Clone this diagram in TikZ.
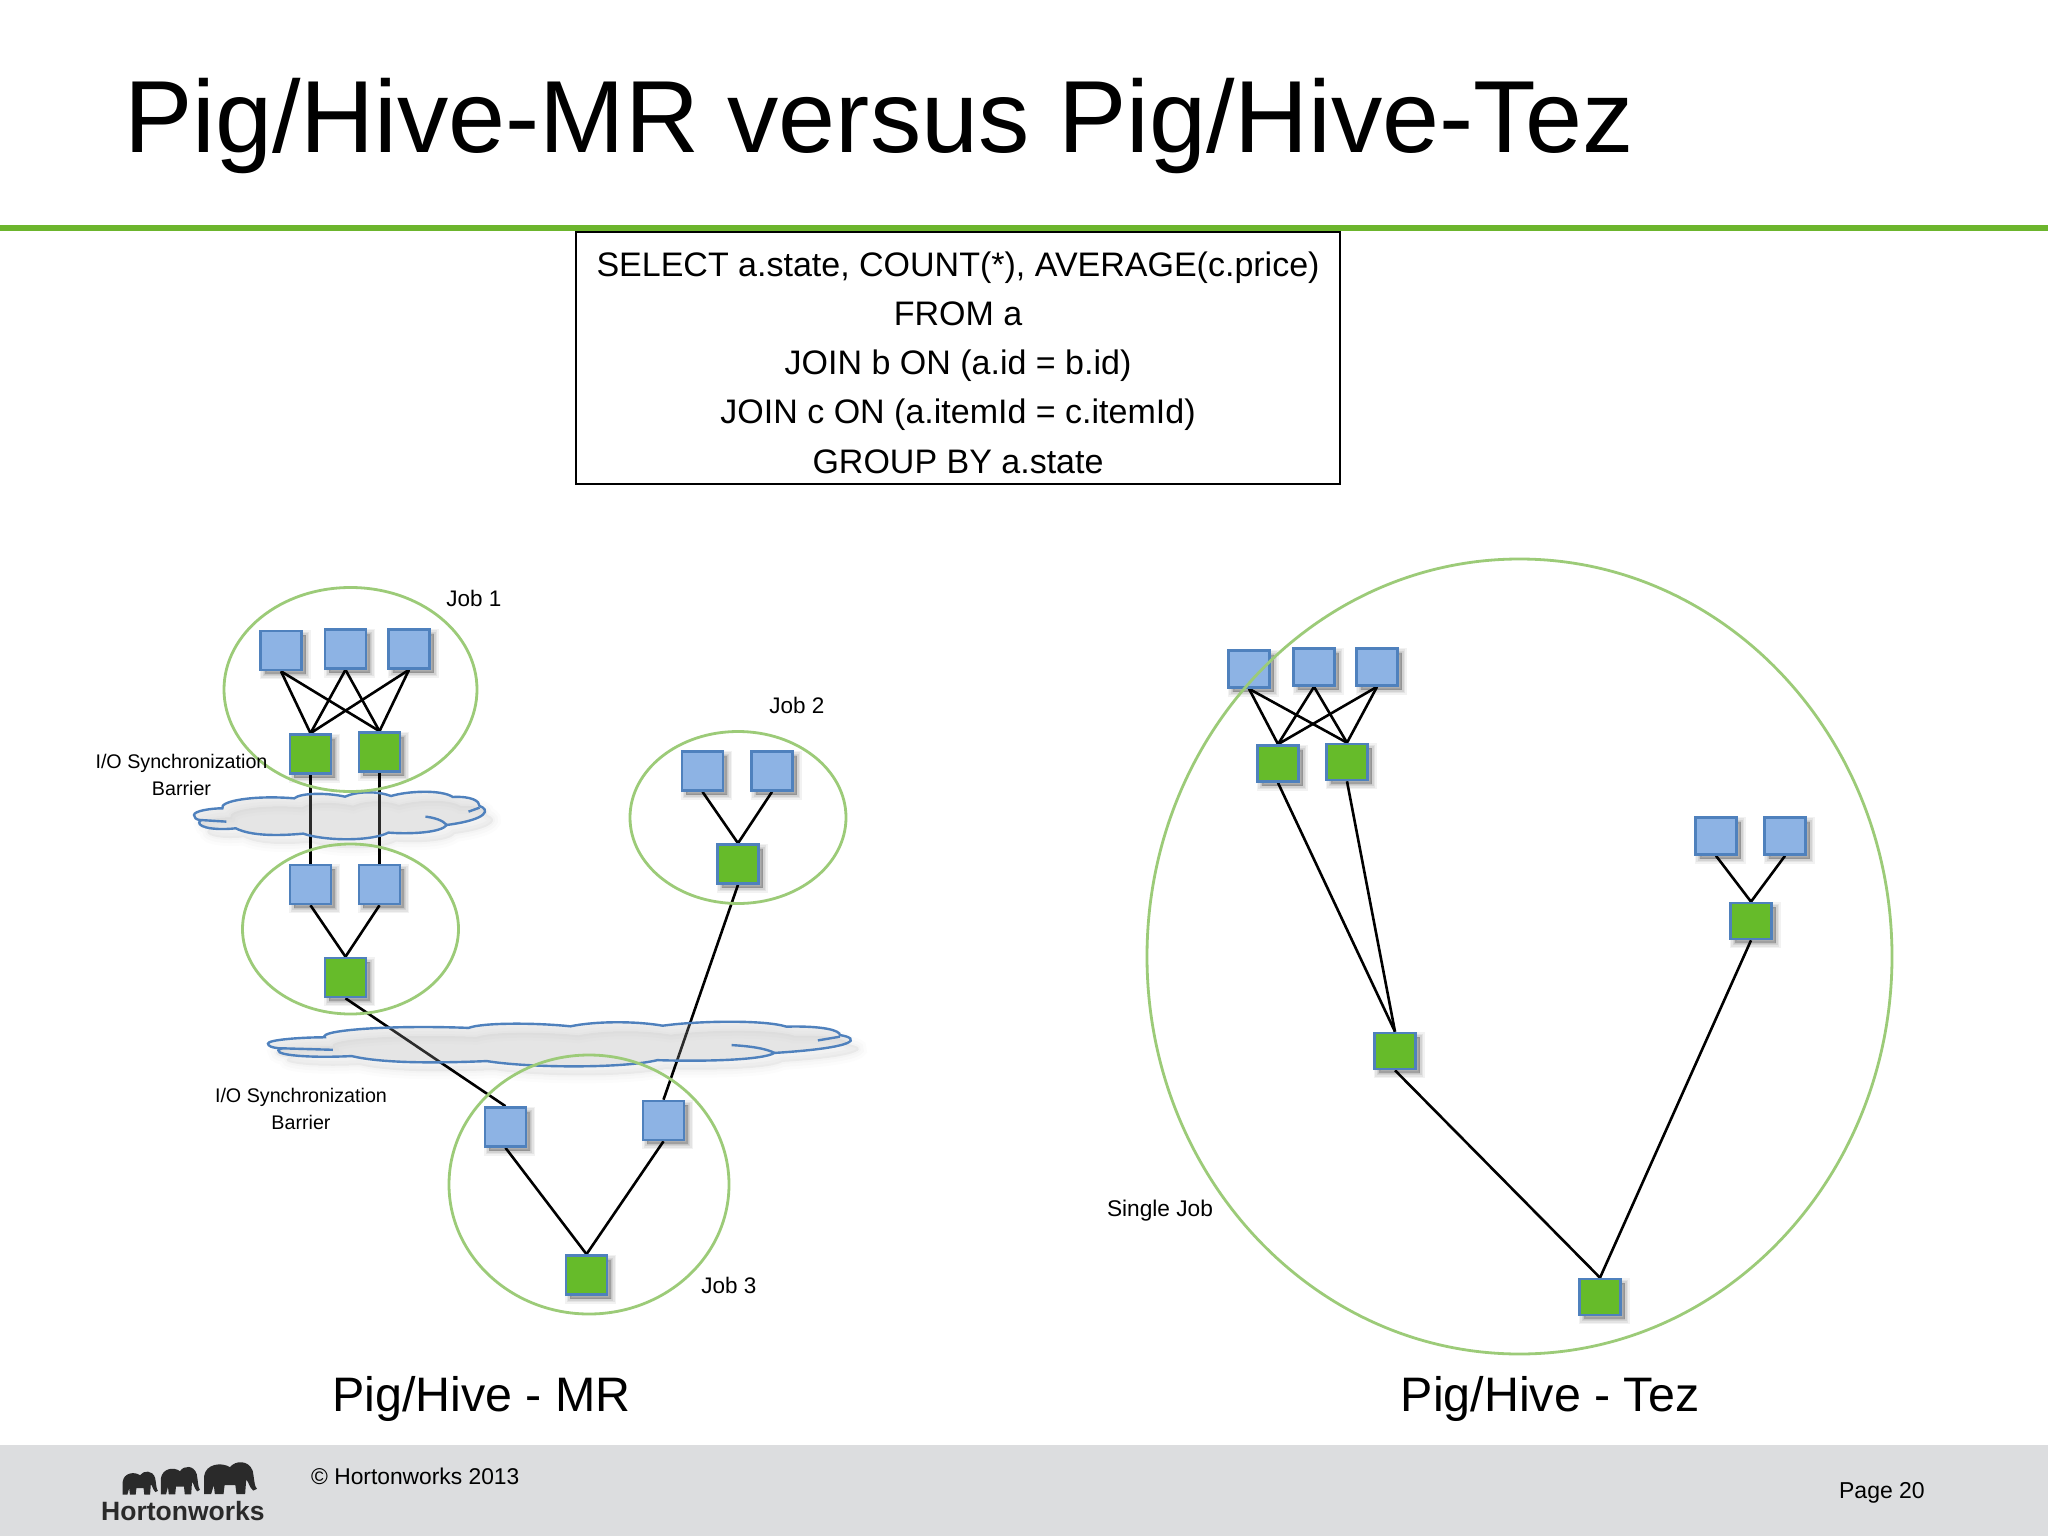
\documentclass[tikz,border=0pt]{standalone}
\usepackage{fontspec}
\setmainfont{Liberation Sans}
\usetikzlibrary{shapes.geometric}
\pgfdeclarelayer{pagelayer}
\pgfdeclarelayer{linelayer}
\pgfdeclarelayer{cloudlayer}
\pgfsetlayers{pagelayer,linelayer,cloudlayer,main}
\definecolor{sqblue}{HTML}{8DB3E4}
\definecolor{sqedge}{HTML}{4F81BD}
\definecolor{sqgreen}{HTML}{66BB2A}
\definecolor{ringgreen}{HTML}{9CCB78}
\definecolor{rulegreen}{HTML}{6CB52D}
\definecolor{footgrey}{HTML}{DCDDDF}
\definecolor{cloudfill}{HTML}{B8B8B8}
\definecolor{logoink}{HTML}{2A2A2A}
\newcommand{\fs}[1]{\fontsize{#1}{#1}\selectfont}
\tikzset{
  softlayer/.style n args={3}{preaction={draw=black,fill=black,opacity=#1,line width=#2,
     transform canvas={shift={(#3)}}}},
  sqshadow/.style={softlayer={.05}{10pt}{4pt,-4pt},softlayer={.06}{7pt}{4pt,-4pt},
     softlayer={.07}{4pt}{4pt,-4pt},softlayer={.07}{1pt}{4pt,-4pt}},
  cloudshadow/.style={softlayer={.012}{16pt}{8pt,-9pt},softlayer={.015}{10pt}{8pt,-9pt},
     softlayer={.015}{4pt}{8pt,-9pt}},
  sq/.style={rectangle,draw=sqedge,line width=2.6pt,minimum width=41pt,minimum height=39pt,inner sep=0pt,sqshadow},
  bluesq/.style={sq,fill=sqblue},
  greensq/.style={sq,fill=sqgreen},
  smallbluesq/.style={bluesq,minimum height=37pt},
  smallgreensq/.style={greensq,minimum height=36pt},
  ring/.style={ellipse,draw=ringgreen,line width=2.8pt,inner sep=0pt},
  link/.style={draw=black,line width=2.6pt},
  lab/.style={inner sep=0pt,align=center,text=black},
  sqlline/.style={lab,anchor=base},
  barrierlabel/.style={lab,font=\fontsize{19.7}{26.5}\selectfont},
}
\newcommand{\cloudshape}[4]{%
  \begin{scope}[shift={(#1,#2)},x=#3pt,y=-#4pt]
    \path[cloudshadow,draw=sqedge,line width=2.4pt,fill=cloudfill,fill opacity=.24]
      (0,72) .. controls (0,60) and (50,52) .. (85,52)
      .. controls (75,30) and (180,12) .. (300,22)
      .. controls (320,5) and (400,5) .. (452,17)
      .. controls (490,0) and (550,0) .. (590,15)
      .. controls (640,0) and (740,-5) .. (775,18)
      .. controls (830,15) and (855,30) .. (855,45)
      .. controls (885,55) and (885,85) .. (757,102)
      .. controls (740,125) and (650,130) .. (582,125)
      .. controls (530,152) and (390,150) .. (327,128)
      .. controls (250,135) and (170,135) .. (125,112)
      .. controls (50,120) and (0,105) .. (20,88)
      .. controls (5,85) and (0,80) .. (0,72) -- cycle;
    \draw[sqedge,line width=2.4pt] (17,87) -- (97,92);
    \draw[sqedge,line width=2.4pt] (822,62) -- (855,50);
    \draw[sqedge,line width=2.4pt] (693,77) .. controls (720,80) and (745,88) .. (757,102);
  \end{scope}}
\newcommand{\hwele}[4]{%
  \begin{scope}[shift={(#1,#2)},x=#3pt,y=-#4pt]
    \fill[logoink] (0.02,.95) -- (.02,.45) .. controls (.05,.1) and (.35,.05) .. (.5,.2)
      .. controls (.6,0) and (.85,0) .. (.92,.3) .. controls (.95,.5) and (.95,.75) .. (1,.8)
      -- (.93,.85) .. controls (.85,.75) and (.85,.6) .. (.8,.55) -- (.78,.95) -- (.62,.95)
      -- (.6,.7) -- (.4,.7) -- (.38,.95) -- (.22,.95) -- (.2,.7) -- (.15,.95) -- cycle;
  \end{scope}}
\begin{document}
\begin{tikzpicture}[x=1pt,y=-1pt]
\useasboundingbox (0,0) rectangle (2048,1536);
\begin{pgfonlayer}{pagelayer}
\fill[white] (0,0) rectangle (2048,1536);
\fill[footgrey] (0,1445) rectangle (2048,1536);
\fill[rulegreen] (0,224.5) rectangle (2048,230.5);
\end{pgfonlayer}

\node[lab,anchor=base west] (title) at (124,153) {\fs{102.5}Pig/Hive-MR versus Pig/Hive-Tez};
\node[draw=black,line width=2.4pt,minimum width=764pt,minimum height=252pt,inner sep=0pt] (sqlbox) at (958,358) {};
\node[sqlline] (s1) at (958,276) {\fs{34}SELECT a.state, COUNT(*), AVERAGE(c.price)};
\node[sqlline] (s2) at (958,325.3) {\fs{34}FROM a};
\node[sqlline] (s3) at (958,374.6) {\fs{34}JOIN b ON (a.id = b.id)};
\node[sqlline] (s4) at (958,423.9) {\fs{34}JOIN c ON (a.itemId = c.itemId)};
\node[sqlline] (s5) at (958,473.2) {\fs{34}GROUP BY a.state};

% MR squares
\node[bluesq] (a1) at (281,650.5) {};
\node[bluesq] (a2) at (345.5,649) {};
\node[bluesq] (a3) at (409,649) {};
\node[greensq] (g1) at (310.5,754) {};
\node[greensq] (g2) at (379.5,752) {};
\node[bluesq] (b1) at (310.5,884.5) {};
\node[bluesq] (b2) at (379.5,884.5) {};
\node[greensq] (g3) at (345.5,977.5) {};
\node[bluesq] (c1) at (702.5,771) {};
\node[bluesq] (c2) at (772,771) {};
\node[greensq] (g4) at (738,864) {};
\node[bluesq] (d1) at (505.5,1127) {};
\node[bluesq] (d2) at (663.5,1120.5) {};
\node[greensq] (g5) at (586.5,1275) {};
% Tez squares
\node[smallbluesq] (t1) at (1249,669) {};
\node[smallbluesq] (t2) at (1314,667) {};
\node[smallbluesq] (t3) at (1377,667) {};
\node[smallgreensq] (u1) at (1278,763.5) {};
\node[smallgreensq] (u2) at (1347,762) {};
\node[smallbluesq] (t4) at (1716,836) {};
\node[smallbluesq] (t5) at (1785,836) {};
\node[smallgreensq] (u3) at (1751,921) {};
\node[smallgreensq] (u4) at (1395,1051) {};
\node[smallgreensq] (u5) at (1600,1297) {};

% rings
\node[ring,minimum width=253pt,minimum height=204pt] (job1) at (350.5,689.5) {};
\node[ring,minimum width=216pt,minimum height=170pt] (jobm) at (350.5,929) {};
\node[ring,minimum width=216pt,minimum height=172pt] (job2) at (738,817.5) {};
\node[ring,minimum width=280pt,minimum height=259pt] (job3) at (589,1184.5) {};
\node[ring,minimum width=745pt,minimum height=795pt] (single) at (1519.5,956.5) {};

\begin{pgfonlayer}{linelayer}
\foreach \p/\q in {a1/g1,a1/g2,a2/g1,a2/g2,a3/g1,a3/g2,g1/b1,g2/b2,b1/g3,b2/g3,c1/g4,c2/g4,g3/d1,g4/d2,d1/g5,d2/g5,
  t1/u1,t1/u2,t2/u1,t2/u2,t3/u1,t3/u2,u1/u4,u2/u4,t4/u3,t5/u3,u3/u5,u4/u5}
  \draw[link] (\p.south) -- (\q.north);
\end{pgfonlayer}
\begin{pgfonlayer}{cloudlayer}
\cloudshape{194}{791}{.334}{.333}
\cloudshape{268}{1021}{.669}{.313}
\end{pgfonlayer}

\node[lab] (l1) at (474,598) {\fs{22.5}Job 1};
\node[lab] (l2) at (797,705) {\fs{22.5}Job 2};
\node[lab] (l3) at (729,1285) {\fs{22.5}Job 3};
\node[barrierlabel] (l4) at (181.5,775) {I/O Synchronization\\Barrier};
\node[barrierlabel] (l5) at (301,1109) {I/O Synchronization\\Barrier};
\node[lab] (l6) at (1160,1211) {\fs{22.7}Single Job};
\node[lab] (c3) at (481.5,1399) {\fs{48.4}Pig/Hive - MR};
\node[lab] (c4) at (1550,1399) {\fs{48.4}Pig/Hive - Tez};
\node[lab,anchor=west] (copy) at (311,1476) {\fs{22.8}© Hortonworks 2013};
\node[lab,anchor=east] (page) at (1925,1493) {\fs{23}Page 20};

% logo
\hwele{122}{1470}{36}{26}
\hwele{160}{1465}{40}{31}
\hwele{203}{1460}{54}{36}
\node[lab,anchor=base west,text=logoink] (logo) at (101,1520) {\fs{26.5}\bfseries Hortonworks};
\end{tikzpicture}
\end{document}
